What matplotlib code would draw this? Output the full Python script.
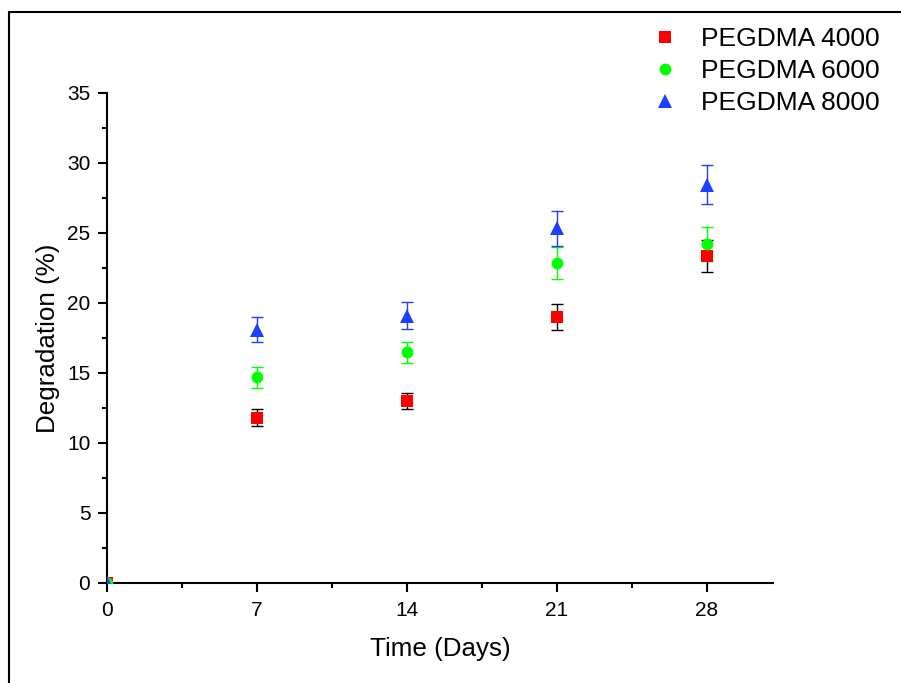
import matplotlib
matplotlib.use("Agg")
import matplotlib.pyplot as plt
from matplotlib.lines import Line2D
from matplotlib.patches import Rectangle
from matplotlib.ticker import MultipleLocator

plt.rcParams['font.family'] = ['Liberation Sans', 'DejaVu Sans']

days = [0, 7, 14, 21, 28]
series_names = ["PEGDMA 4000", "PEGDMA 6000", "PEGDMA 8000"]
peg4000 = [0, 11.8, 13.0, 19.0, 23.35]
peg4000_err = [0, 0.6, 0.6, 0.95, 1.15]
peg6000 = [0, 14.7, 16.5, 22.85, 24.2]
peg6000_err = [0, 0.75, 0.75, 1.15, 1.2]
peg8000 = [0, 18.1, 19.1, 25.35, 28.45]
peg8000_err = [0, 0.9, 0.95, 1.25, 1.4]

fig = plt.figure(figsize=(9.01, 6.83), dpi=100)
ax = fig.add_axes([107/901, 1-583/683, (773-107)/901, (583-93)/683])

# figure frame
fig.patches.append(Rectangle((9/901, -0.1), 1.2, 1-12/683+0.1, transform=fig.transFigure,
                             fill=False, edgecolor='black', linewidth=1.5))

styles = [
    (peg4000, peg4000_err, 's', '#ff0000', 'black', 8),
    (peg6000, peg6000_err, 'o', '#00ff00', '#00ff00', 8.5),
    (peg8000, peg8000_err, '^', '#1f3fff', '#1f3fff', 9.5),
]
handles = []
for (vals, err, mk, col, ecol, ms), name in zip(styles, series_names):
    ax.errorbar(days, vals, yerr=err, fmt='none', ecolor=ecol, elinewidth=1,
                capsize=4.5, capthick=1, zorder=2)
    ax.plot(days, vals, linestyle='none', marker=mk, color=col, markersize=ms,
            markeredgewidth=0, zorder=3)
    handles.append(Line2D([], [], linestyle='none', marker=mk, color=col,
                          markersize=ms, markeredgewidth=0, label=name))

ax.set_xlim(0, 31.1)
ax.set_ylim(0, 35)
ax.xaxis.set_major_locator(MultipleLocator(7))
ax.xaxis.set_minor_locator(MultipleLocator(3.5))
ax.yaxis.set_major_locator(MultipleLocator(5))
ax.yaxis.set_minor_locator(MultipleLocator(2.5))
for s in ['top', 'right']:
    ax.spines[s].set_visible(False)
for s in ['left', 'bottom']:
    ax.spines[s].set_linewidth(1.5)
ax.tick_params(which='major', direction='out', length=6.5, width=1.5, labelsize=15)
ax.tick_params(axis='x', which='major', pad=6.5)
ax.tick_params(axis='y', which='major', pad=5.5)
ax.tick_params(which='minor', direction='out', length=3.5, width=1.5)

ax.set_xlabel("Time (Days)", fontsize=18.7, labelpad=12)
ax.set_ylabel("Degradation (%)", fontsize=18.7, labelpad=5)

fig.legend(handles=handles, loc='upper left', bbox_to_anchor=(652/901, 1-27/683),
           frameon=False, fontsize=19, handlelength=1, handletextpad=0.85,
           labelspacing=0.3, borderpad=0, borderaxespad=0)

fig.savefig("out.png", dpi=100)
